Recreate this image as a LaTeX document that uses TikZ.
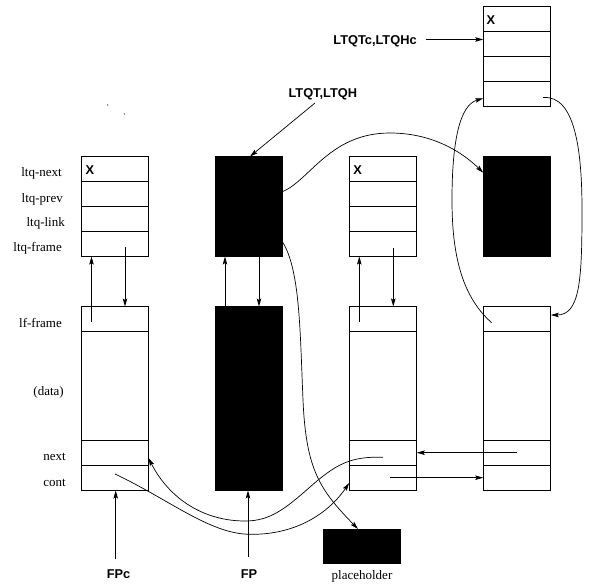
\documentclass[tikz,border=0pt]{standalone}
\usepackage{fontspec}
\setmainfont{Liberation Serif}
\newfontfamily\lsans{Liberation Sans}
\usetikzlibrary{arrows.meta,calc}
\begin{document}
\begin{tikzpicture}[x=1pt,y=-1pt,
  cell/.style={draw=black, line width=0.8pt, minimum width=67.5pt, minimum height=25pt, inner sep=0pt, outer sep=0pt},
  blk/.style={fill=black, draw=black, line width=0.8pt, minimum width=67.5pt, inner sep=0pt, outer sep=0pt},
  lab/.style={font=\fontsize{13}{15}\selectfont, anchor=base east, inner sep=0pt},
  blab/.style={font=\lsans\bfseries\fontsize{12.8}{15}\selectfont, anchor=base, inner sep=0pt},
  xmark/.style={font=\lsans\bfseries\fontsize{12.8}{15}\selectfont, anchor=west, inner sep=0pt},
  arr/.style={-{Stealth[length=8pt,width=4.5pt,inset=1.5pt]}, line width=0.7pt},
  ln/.style={line width=0.7pt}]
\useasboundingbox (0,0) rectangle (589,587);

% column 1: ltq box
\node[cell] (a1) at (114.7,169) {};
\node[cell] (a2) at (114.7,194) {};
\node[cell] (a3) at (114.7,219) {};
\node[cell] (a4) at (114.7,244) {};
\node[xmark] (xa) at (85.5,170.5) {X};
% column 1: frame
\node[cell] (f1) at (114.7,319) {};
\node[cell, minimum height=109pt] (fd) at (114.7,386) {};
\node[cell] (fn) at (114.7,453) {};
\node[cell] (fc) at (114.7,478) {};

% column 2: black boxes
\node[blk, minimum height=100pt] (b1) at (248.8,206.5) {};
\node[blk, minimum height=184pt] (b2) at (248.8,398.5) {};

% column 3
\node[cell] (c1) at (383,169) {};
\node[cell] (c2) at (383,194) {};
\node[cell] (c3) at (383,219) {};
\node[cell] (c4) at (383,244) {};
\node[xmark] (xc) at (353.2,170.5) {X};
\node[cell] (g1) at (383,319) {};
\node[cell, minimum height=109pt] (gd) at (383,386) {};
\node[cell] (gn) at (383,453) {};
\node[cell] (gc) at (383,478) {};

% column 4
\node[cell] (t1) at (517,18.5) {};
\node[cell] (t2) at (517,43.5) {};
\node[cell] (t3) at (517,68.5) {};
\node[cell] (t4) at (517,93.5) {};
\node[xmark] (xt) at (486.5,20) {X};
\node[blk, minimum height=100pt] (b3) at (517,206.5) {};
\node[cell] (h1) at (517,319) {};
\node[cell, minimum height=109pt] (hd) at (517,386) {};
\node[cell] (hn) at (517,453) {};
\node[cell] (hc) at (517,478) {};

% placeholder
\node[blk, minimum width=76.3pt, minimum height=34pt] (ph) at (361.9,546) {};
\node[lab, anchor=base] (phl) at (362,579.5) {placeholder};

% row labels
\node[lab] (l1) at (62,176.5) {ltq-next};
\node[lab] (l2) at (63,202.7) {ltq-prev};
\node[lab] (l3) at (65,226.7) {ltq-link};
\node[lab] (l4) at (62,251.7) {ltq-frame};
\node[lab] (l5) at (62,327.7) {lf-frame};
\node[lab] (l6) at (64,395) {(data)};
\node[lab] (l7) at (66,460.7) {next};
\node[lab] (l8) at (66,486.7) {cont};

% bold labels
\node[blab] (ltqt) at (322.8,97.3) {LTQT,LTQH};
\node[blab] (ltqtc) at (375,44.3) {LTQTc,LTQHc};
\node[blab] (fpc) at (118.5,578.5) {FPc};
\node[blab] (fp) at (249,578.5) {FP};

% specks
\fill (107.7,105) circle (0.6pt);
\fill (124.3,114) circle (0.6pt);

% vertical links
\coordinate (u1) at (91.5,321.7);
\draw[arr] (u1) -- (u1 |- a4.south);
\coordinate (d1) at (125,247);
\draw[arr] (d1) -- (d1 |- f1.north);
\coordinate (u2) at (225,306.5);
\draw[arr] (u2) -- (u2 |- b1.south);
\coordinate (d2) at (259,256.5);
\draw[arr] (d2) -- (d2 |- b2.north);
\coordinate (u3) at (359.3,321.7);
\draw[arr] (u3) -- (u3 |- c4.south);
\coordinate (d3) at (393.3,247.7);
\draw[arr] (d3) -- (d3 |- g1.north);

% FPc / FP
\coordinate (fpcs) at (115.7,559);
\draw[arr] (fpcs) -- (fpcs |- fc.south);
\coordinate (fps) at (248,557);
\draw[arr] (fps) -- (fps |- b2.south);

% LTQT,LTQH
\coordinate (lts) at (315,103);
\coordinate (lte) at (250,156.5);
\draw[arr] (lts) -- (lte);
% LTQTc,LTQHc
\coordinate (ltcs) at (425.7,39.5);
\draw[arr] (ltcs) -- (ltcs -| t2.west);

% next/cont horizontals
\coordinate (n4) at (516.7,452.7);
\draw[arr] (n4) -- (n4 -| gn.east);
\coordinate (c3s) at (390,477.7);
\draw[arr] (c3s) -- (c3s -| hc.west);

% curve from black ltq box to black box in column 4
\coordinate (k1) at (b1.east |- 0,191.7);
\coordinate (k2) at (b3.west |- 0,172.7);
\draw[arr] (k1) .. controls (310,180) and (330,133) .. (390,133)
  .. controls (430,133) and (460,150) .. (k2);

% curve from black ltq box to placeholder
\coordinate (m1) at (b1.east |- 0,242);
\coordinate (m2) at (ph.north -| 358,0);
\draw[arr] (m1) .. controls (300,270) and (300,330) .. (303,400)
  .. controls (306,470) and (320,490) .. (m2);

% right loop: top box ltq-frame -> col4 lf-frame
\coordinate (r1) at (543,97.5);
\coordinate (r2) at (h1.east |- 0,315);
\draw[arr] (r1) .. controls (575,95) and (582,150) .. (582,210)
  .. controls (582,280) and (580,315) .. (r2);

% left loop: col4 lf-frame -> top box ltq-frame
\coordinate (q1) at (491.7,322.7);
\coordinate (q2) at (t4.west |- 0,98.3);
\draw[arr] (q1) .. controls (460,295) and (452,250) .. (452,200)
  .. controls (452,140) and (460,105) .. (q2);

% cont curve: col1 cont -> col3 cont
\coordinate (s1) at (115,474);
\coordinate (s2) at (gc.west |- 0,483);
\draw[arr] (s1) .. controls (170,500) and (210,534) .. (250,534.3)
  .. controls (290,535) and (325,518) .. (s2);

% next curve: col3 next -> col1 next
\coordinate (v1) at (383,457.3);
\coordinate (v2) at (fn.east |- 0,458);
\draw[arr] (v1) .. controls (350,456) and (335,465) .. (310,487)
  .. controls (285,509) and (270,521) .. (245,521)
  .. controls (205,521) and (170,500) .. (v2);
\end{tikzpicture}
\end{document}
